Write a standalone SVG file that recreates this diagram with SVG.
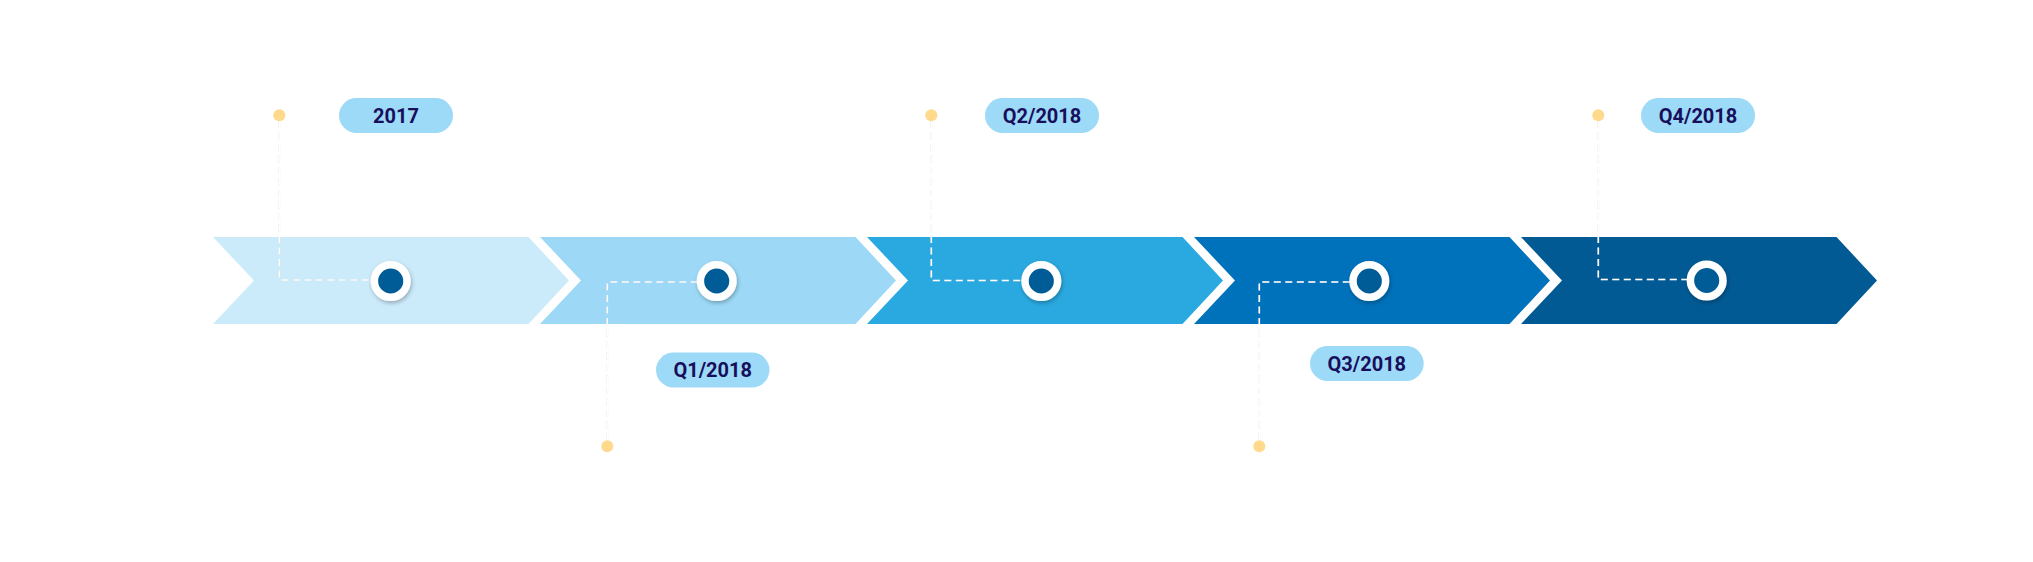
<svg xmlns="http://www.w3.org/2000/svg" width="2033" height="562" viewBox="0 0 2033 562">
  <defs>
    <style>
      .pill { fill: #9DDAF7; }
      .lbl { font-family: Roboto, "Liberation Sans", sans-serif; font-weight: 700; font-size: 20px; fill: #170F5C; text-anchor: middle; }
      .dot { fill: #FFD98C; }
      .ring { fill: #045B96; stroke: #FFFFFF; stroke-width: 7.5; }
      .dash { fill: none; stroke: #FFFFFF; stroke-width: 1.6; stroke-dasharray: 7 4.5; }
    </style>
    <filter id="sh" x="-50%" y="-50%" width="200%" height="200%">
      <feDropShadow dx="1" dy="2" stdDeviation="2" flood-color="#000000" flood-opacity="0.28"/>
    </filter>
    <filter id="lsh" x="-50%" y="-10%" width="200%" height="120%">
      <feDropShadow dx="0" dy="0" stdDeviation="0.6" flood-color="#9a9a9a" flood-opacity="0.55"/>
    </filter>
  </defs>
  <rect width="2033" height="562" fill="#FFFFFF"/>

  <g id="chevrons">
    <polygon id="chev1" fill="#CCEBFA" points="213,237 528.5,237 569,280.5 528.5,324 213,324 254,280.5"/>
    <polygon id="chev2" fill="#9DD9F6" points="540,237 855.5,237 896,280.5 855.5,324 540,324 581,280.5"/>
    <polygon id="chev3" fill="#2AA9E0" points="867,237 1182.5,237 1223,280.5 1182.5,324 867,324 908,280.5"/>
    <polygon id="chev4" fill="#0071BB" points="1194,237 1509.5,237 1550,280.5 1509.5,324 1194,324 1235,280.5"/>
    <polygon id="chev5" fill="#025A94" points="1521,237 1836.5,237 1877,280.5 1836.5,324 1521,324 1562,280.5"/>
  </g>

  <g id="connectors" filter="url(#lsh)">
    <path class="dash" d="M279.3,121 V280 H385"/>
    <path class="dash" d="M607.3,440 V282 H712"/>
    <path class="dash" d="M931.3,121 V280.5 H1036"/>
    <path class="dash" d="M1259.3,440 V282 H1364"/>
    <path class="dash" d="M1598.3,121 V279.5 H1702"/>
  </g>

  <g id="node-2017">
    <circle class="dot" cx="279.3" cy="115.3" r="6"/>
    <rect class="pill" x="339" y="98" width="114" height="35" rx="17.5"/>
    <text class="lbl" x="396" y="122.6">2017</text>
    <circle class="ring" cx="390.7" cy="281" r="16.3" filter="url(#sh)"/>
  </g>

  <g id="node-q1-2018">
    <circle class="dot" cx="607.3" cy="446.3" r="6"/>
    <rect class="pill" x="656" y="352.5" width="113.5" height="35" rx="17.5"/>
    <text class="lbl" x="712.7" y="377.1">Q1/2018</text>
    <circle class="ring" cx="716.7" cy="281" r="16.3" filter="url(#sh)"/>
  </g>

  <g id="node-q2-2018">
    <circle class="dot" cx="931.3" cy="115.3" r="6"/>
    <rect class="pill" x="985" y="98" width="114" height="35" rx="17.5"/>
    <text class="lbl" x="1042" y="122.6">Q2/2018</text>
    <circle class="ring" cx="1041.3" cy="281" r="16.3" filter="url(#sh)"/>
  </g>

  <g id="node-q3-2018">
    <circle class="dot" cx="1259.3" cy="446.3" r="6"/>
    <rect class="pill" x="1310" y="346" width="113.7" height="35" rx="17.5"/>
    <text class="lbl" x="1366.8" y="370.6">Q3/2018</text>
    <circle class="ring" cx="1369.3" cy="281" r="16.3" filter="url(#sh)"/>
  </g>

  <g id="node-q4-2018">
    <circle class="dot" cx="1598.3" cy="115.3" r="6"/>
    <rect class="pill" x="1641" y="98" width="114" height="35" rx="17.5"/>
    <text class="lbl" x="1698" y="122.6">Q4/2018</text>
    <circle class="ring" cx="1706.7" cy="280.5" r="16.3" filter="url(#sh)"/>
  </g>
</svg>
